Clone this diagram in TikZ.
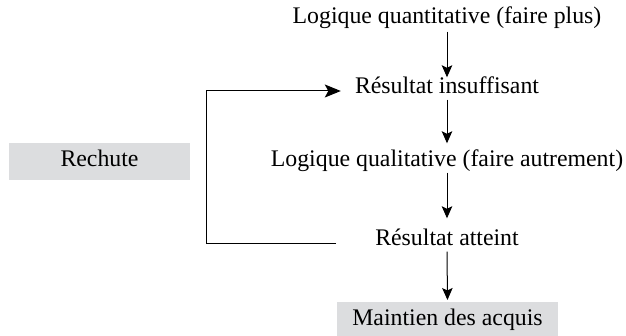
\documentclass[tikz,border=0pt]{standalone}
\usepackage{fontspec}
\setmainfont{Liberation Serif}
\usetikzlibrary{arrows.meta}
\definecolor{boxgray}{HTML}{DCDDDF}
\tikzset{
  lbl/.style={inner sep=0pt, text height=16pt, text depth=5pt, font=\fontsize{23.8}{28}\selectfont},
  graybox/.style={lbl, fill=boxgray, minimum height=35pt},
  arr/.style={line width=1pt, -{Stealth[length=12pt,width=10.5pt,inset=2.5pt]}},
  backarr/.style={line width=1pt, -{Stealth[length=16pt,width=13pt,inset=3.5pt]}}
}
\begin{document}
\begin{tikzpicture}[x=1pt,y=-1pt]
\useasboundingbox (0,0) rectangle (626,336);
\node[lbl] (q1) at (447,18) {Logique quantitative (faire plus)};
\node[lbl] (r1) at (447,88) {Résultat insuffisant};
\node[lbl] (q2) at (447,161) {Logique qualitative (faire autrement)};
\node[lbl] (r2) at (447,240) {Résultat atteint};
\node[graybox, minimum width=221pt, anchor=north] (m) at (447.5,302) {Maintien des acquis};
\node[graybox, minimum width=181pt, minimum height=37pt] (rc) at (99.5,161.5) {Rechute};
\coordinate (lb) at (206,244);
\coordinate (lt) at (206,91);
\draw[arr, shorten <=3pt] (q1.south) -- (r1.north);
\draw[arr, shorten <=1pt, shorten >=7pt] (r1.south) -- (q2.north);
\draw[arr, shorten <=1pt, shorten >=11pt] (q2.south) -- (r2.north);
\draw[arr, shorten <=1pt, shorten >=2pt] (r2.south) -- (m.north);
\draw[backarr] ([xshift=-39pt]r2.west |- lb) -- (lb) -- (lt) -- ([xshift=-14pt]r1.west |- lt);
\end{tikzpicture}
\end{document}
